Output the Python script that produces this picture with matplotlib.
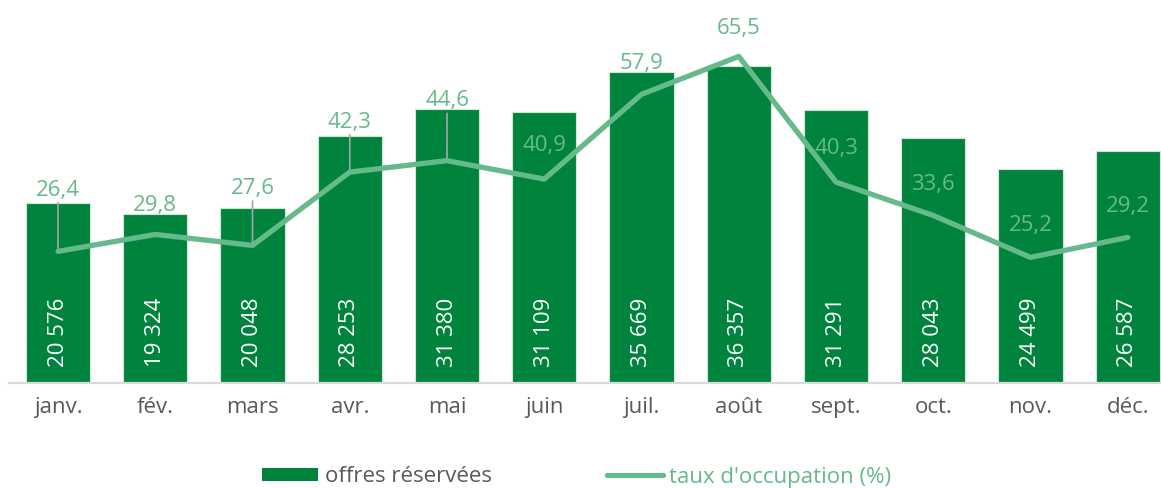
import matplotlib.pyplot as plt
from matplotlib.patches import Patch
from matplotlib.lines import Line2D

# données mensuelles
mois = ['janv.', 'fév.', 'mars', 'avr.', 'mai', 'juin',
        'juil.', 'août', 'sept.', 'oct.', 'nov.', 'déc.']
offres_reservees = [20576, 19324, 20048, 28253, 31380, 31109,
                    35669, 36357, 31291, 28043, 24499, 26587]
taux_occupation = [26.4, 29.8, 27.6, 42.3, 44.6, 40.9,
                   57.9, 65.5, 40.3, 33.6, 25.2, 29.2]

# décalage vertical des étiquettes du taux (en points)
decalage_etiquettes = [44, 21, 41, 36, 43, 24, 22, 20, 24, 22, 23, 22]
avec_trait = [True, False, True, True, True, False,
              False, False, False, False, False, False]

vert_fonce = '#00843D'
vert_clair = '#66B98A'
gris_texte = '#595959'

plt.rcParams['font.family'] = ['Open Sans', 'DejaVu Sans']

fig = plt.figure(figsize=(11.61, 4.88), dpi=100)
ax = fig.add_axes([9.4 / 1161, 105 / 488, 1167 / 1161, 349 / 488])
ax2 = ax.twinx()

x = list(range(len(mois)))

# barres : offres réservées
ax.bar(x, offres_reservees, width=0.66, color=vert_fonce,
       edgecolor='#cfe8d6', linewidth=0.8, zorder=2)
for xi, v in zip(x, offres_reservees):
    ax.annotate(f'{v:,}'.replace(',', ' '), (xi, 0), xytext=(0, 11.5),
                textcoords='offset points', rotation=90, ha='center',
                va='bottom', color='white', fontsize=16, zorder=3)

ax.set_xlim(-0.5, len(mois) - 0.5)
ax.set_ylim(0, 40000)
ax.set_yticks([])
for s in ['top', 'right', 'left']:
    ax.spines[s].set_visible(False)
ax.spines['bottom'].set_color('#d9d9d9')
ax.spines['bottom'].set_linewidth(1.6)
ax.set_xticks(x)
ax.set_xticklabels(mois, fontsize=16, color=gris_texte)
ax.tick_params(axis='x', length=0, pad=10)

# ligne : taux d'occupation
ax2.plot(x, taux_occupation, color=vert_clair, linewidth=3.8,
         solid_capstyle='round', solid_joinstyle='round', zorder=4)
ax2.set_ylim(0, 70)
ax2.set_yticks([])
for s in ax2.spines.values():
    s.set_visible(False)

for xi, v, dy, trait in zip(x, taux_occupation, decalage_etiquettes, avec_trait):
    ax2.annotate(f'{v:.1f}'.replace('.', ','), (xi, v), xytext=(0, dy),
                 textcoords='offset points', ha='center', va='center',
                 color=vert_clair, fontsize=16, zorder=5)
    if trait:
        ax2.annotate('', (xi, v), xytext=(0, dy - 9),
                     textcoords='offset points',
                     arrowprops=dict(arrowstyle='-', color='#a6a6a6', lw=1.2,
                                     shrinkA=0, shrinkB=0), zorder=3)

# légende
poignees = [Patch(facecolor=vert_fonce, edgecolor='none'),
            Line2D([0], [0], color=vert_clair, linewidth=3.8, solid_capstyle='round')]
leg = fig.legend(poignees, ['offres réservées', "taux d'occupation (%)"],
                 loc='center', bbox_to_anchor=(577 / 1161, 11 / 488), ncol=2,
                 frameon=False, fontsize=16, handlelength=2.5, handleheight=0.55,
                 handletextpad=0.3, columnspacing=5.2)
leg.get_texts()[0].set_color(gris_texte)
leg.get_texts()[1].set_color(vert_clair)

fig.savefig('out.png', dpi=100, facecolor='white')
